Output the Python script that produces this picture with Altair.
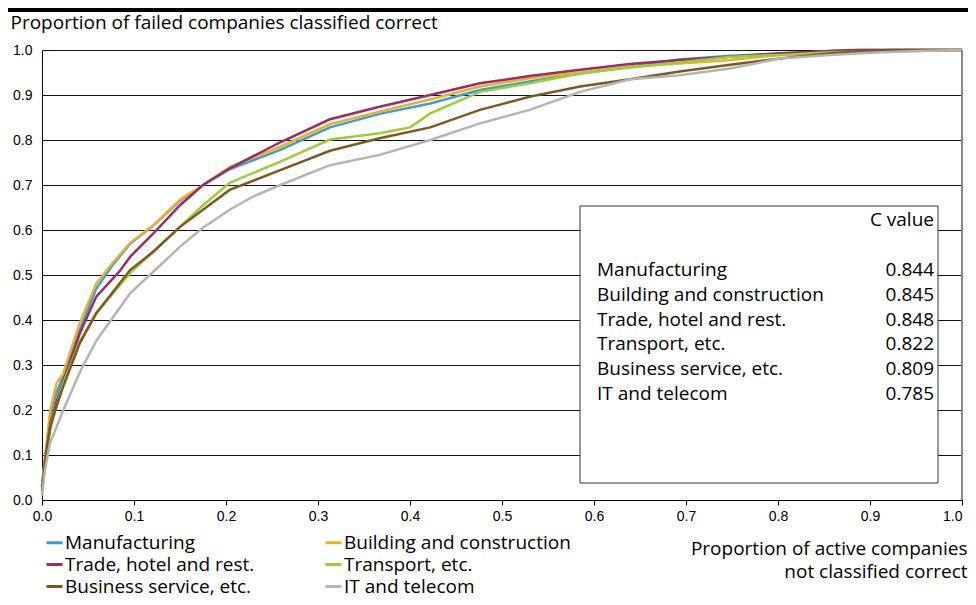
import altair as alt
import pandas as pd

# ---------------- data ----------------
categories = ["Manufacturing", "Building and construction", "Trade, hotel and rest.",
              "Transport, etc.", "Business service, etc.", "IT and telecom"]
c_values = [0.844, 0.845, 0.848, 0.822, 0.809, 0.785]
colors = ["#3E9BD8", "#E9B12B", "#9A2C63", "#9ACD3A", "#7B5A22", "#B4B4B4"]
tick_values = [0.0, 0.1, 0.2, 0.3, 0.4, 0.5, 0.6, 0.7, 0.8, 0.9, 1.0]

manufacturing_x = [0, 0.004, 0.009, 0.016, 0.023, 0.041, 0.059, 0.076, 0.096, 0.121, 0.15, 0.175,
                   0.204, 0.259, 0.313, 0.367, 0.422, 0.476, 0.53, 0.585, 0.639, 0.693, 0.748,
                   0.802, 0.857, 0.88, 1.0]
manufacturing_y = [0.03, 0.10, 0.19, 0.24, 0.274, 0.378, 0.47, 0.52, 0.57, 0.61, 0.665, 0.70,
                   0.735, 0.778, 0.828, 0.858, 0.881, 0.911, 0.930, 0.948, 0.963, 0.979, 0.987,
                   0.991, 0.998, 1.0, 1.0]

building_x = [0, 0.004, 0.009, 0.016, 0.023, 0.041, 0.059, 0.076, 0.096, 0.121, 0.15, 0.175,
              0.204, 0.259, 0.313, 0.367, 0.422, 0.476, 0.53, 0.585, 0.639, 0.693, 0.748,
              0.802, 0.857, 0.9, 0.93, 1.0]
building_y = [0.03, 0.11, 0.20, 0.26, 0.281, 0.393, 0.481, 0.525, 0.572, 0.61, 0.667, 0.70,
              0.74, 0.785, 0.835, 0.863, 0.890, 0.919, 0.937, 0.950, 0.963, 0.970, 0.978,
              0.989, 0.994, 0.997, 1.0, 1.0]

trade_x = [0, 0.004, 0.009, 0.016, 0.023, 0.041, 0.059, 0.085, 0.096, 0.12, 0.15, 0.175,
           0.204, 0.259, 0.313, 0.367, 0.422, 0.476, 0.53, 0.585, 0.639, 0.693, 0.748,
           0.802, 0.857, 0.89, 1.0]
trade_y = [0.03, 0.09, 0.17, 0.22, 0.263, 0.37, 0.452, 0.51, 0.541, 0.59, 0.655, 0.70,
           0.737, 0.795, 0.846, 0.874, 0.900, 0.926, 0.942, 0.956, 0.969, 0.978, 0.985,
           0.993, 0.998, 1.0, 1.0]

transport_x = [0, 0.004, 0.01, 0.016, 0.023, 0.041, 0.059, 0.0957, 0.12, 0.15, 0.175, 0.204,
               0.259, 0.313, 0.367, 0.40, 0.41, 0.422, 0.476, 0.53, 0.585, 0.639, 0.693,
               0.748, 0.802, 0.857, 0.9, 0.95, 0.99, 1.0]
transport_y = [0.03, 0.10, 0.17, 0.21, 0.259, 0.352, 0.415, 0.504, 0.55, 0.607, 0.655, 0.705,
               0.752, 0.801, 0.815, 0.828, 0.842, 0.859, 0.907, 0.926, 0.948, 0.961, 0.972,
               0.985, 0.989, 0.995, 0.996, 0.998, 1.0, 1.0]

business_x = [0, 0.004, 0.009, 0.0145, 0.023, 0.041, 0.059, 0.0957, 0.12, 0.15, 0.175, 0.204,
              0.259, 0.313, 0.367, 0.422, 0.476, 0.53, 0.585, 0.639, 0.693, 0.748, 0.802,
              0.857, 0.92, 1.0]
business_y = [0.02, 0.10, 0.16, 0.20, 0.252, 0.348, 0.415, 0.511, 0.55, 0.607, 0.645, 0.689,
              0.733, 0.776, 0.804, 0.828, 0.867, 0.896, 0.919, 0.935, 0.952, 0.967, 0.981,
              0.993, 1.0, 1.0]

it_x = [0, 0.0033, 0.0087, 0.0232, 0.0413, 0.0594, 0.0957, 0.125, 0.15, 0.175, 0.204, 0.23,
        0.259, 0.313, 0.367, 0.422, 0.476, 0.53, 0.585, 0.639, 0.693, 0.748, 0.802,
        0.857, 0.9, 0.95, 1.0]
it_y = [0.01, 0.067, 0.126, 0.20, 0.285, 0.355, 0.459, 0.515, 0.563, 0.605, 0.645, 0.675,
        0.70, 0.744, 0.767, 0.800, 0.837, 0.867, 0.907, 0.935, 0.944, 0.959, 0.981,
        0.989, 0.994, 0.998, 1.0]

series_x = [manufacturing_x, building_x, trade_x, transport_x, business_x, it_x]
series_y = [manufacturing_y, building_y, trade_y, transport_y, business_y, it_y]

rows = []
for name, xs, ys in zip(categories, series_x, series_y):
    for i, (xv, yv) in enumerate(zip(xs, ys)):
        rows.append({"series": name, "x": xv, "y": yv, "idx": i})
df = pd.DataFrame(rows)

table = pd.DataFrame({"name": categories, "cval": c_values, "row": list(range(len(categories)))})

# legend lays entries out column by column: reorder so rows read as in the reference
legend_order = [0, 2, 4, 1, 3, 5]
legend_domain = [categories[i] for i in legend_order]
legend_range = [colors[i] for i in legend_order]

FONT = "Open Sans"
AXFONT = "Liberation Sans"
FS = 19

# ---------------- chart ----------------
lines = alt.Chart(df).mark_line(strokeWidth=2.5).encode(
    x=alt.X("x:Q", scale=alt.Scale(domain=[0, 1], nice=False, zero=False),
            axis=alt.Axis(values=tick_values, format=".1f", grid=False,
                          title=["Proportion of active companies", "not classified correct"],
                          titleX=925, titleY=54, titleAlign="right", titleAnchor="end",
                          titleBaseline="alphabetic", titleLineHeight=23,
                          titleFont=FONT, titleFontSize=FS, titleFontWeight="normal",
                          labelFont=AXFONT, labelFontSize=14, labelPadding=4,
                          labelAlign={"condition": {"test": "datum.value >= 1", "value": "right"},
                                      "value": "center"},
                          tickSize=5, labelFlush=False)),
    y=alt.Y("y:Q", scale=alt.Scale(domain=[0, 1], nice=False),
            axis=alt.Axis(values=tick_values, format=".1f", grid=True, ticks=False,
                          title="Proportion of failed companies classified correct",
                          titleAngle=0, titleX=-32, titleY=-22, titleAlign="left",
                          titleBaseline="alphabetic", titleFont=FONT, titleFontSize=FS,
                          titleFontWeight="normal",
                          labelFont=AXFONT, labelFontSize=14, labelPadding=10)),
    color=alt.Color("series:N", scale=alt.Scale(domain=legend_domain, range=legend_range),
                    legend=alt.Legend(title=None, orient="none", legendX=3, legendY=483,
                                      columns=2, symbolType="stroke", symbolSize=256,
                                      symbolStrokeWidth=3, labelFont=FONT, labelFontSize=FS,
                                      columnPadding=64, rowPadding=2, padding=0,
                                      labelOffset=1, labelLimit=400)),
    order=alt.Order("idx:Q"),
)

right_border = alt.Chart(pd.DataFrame({"a": [0]})).mark_rule(color="#8a8a8a", strokeWidth=2).encode(
    x=alt.value(920), y=alt.value(0), y2=alt.value(450))

top_bar = alt.Chart(pd.DataFrame({"a": [0]})).mark_rule(color="black", strokeWidth=4).encode(
    x=alt.value(-34), x2=alt.value(934), y=alt.value(-40))

box = alt.Chart(pd.DataFrame({"a": [0]})).mark_rect(fill="white", stroke="#333333", strokeWidth=1).encode(
    x=alt.value(538), x2=alt.value(896), y=alt.value(156), y2=alt.value(433))

header = alt.Chart(pd.DataFrame({"t": ["C value"]})).mark_text(
    align="right", baseline="middle", font=FONT, fontSize=FS, color="black").encode(
    x=alt.value(892), y=alt.value(170), text="t:N")

names = alt.Chart(table).transform_calculate(py="220 + 24.8 * datum.row").mark_text(
    align="left", baseline="middle", font=FONT, fontSize=FS, color="black").encode(
    x=alt.value(555), y=alt.Y("py:Q", scale=None), text="name:N")

vals = alt.Chart(table).transform_calculate(py="220 + 24.8 * datum.row").mark_text(
    align="right", baseline="middle", font=FONT, fontSize=FS, color="black").encode(
    x=alt.value(892), y=alt.Y("py:Q", scale=None), text=alt.Text("cval:Q", format=".3f"))

chart = alt.layer(lines, right_border, top_bar, box, header, names, vals).properties(
    width=920, height=450,
    autosize=alt.AutoSizeParams(type="none"),
    padding={"left": 34, "top": 42, "right": 6, "bottom": 97},
    background="white",
).configure_view(stroke=None).configure_axis(
    domainColor="black", tickColor="black", gridColor="#111111", gridWidth=1,
    labelColor="black", titleColor="black", domainWidth=1,
).configure_legend(labelColor="black")

chart.save("out.html", embed_options={"renderer": "svg", "actions": False})
